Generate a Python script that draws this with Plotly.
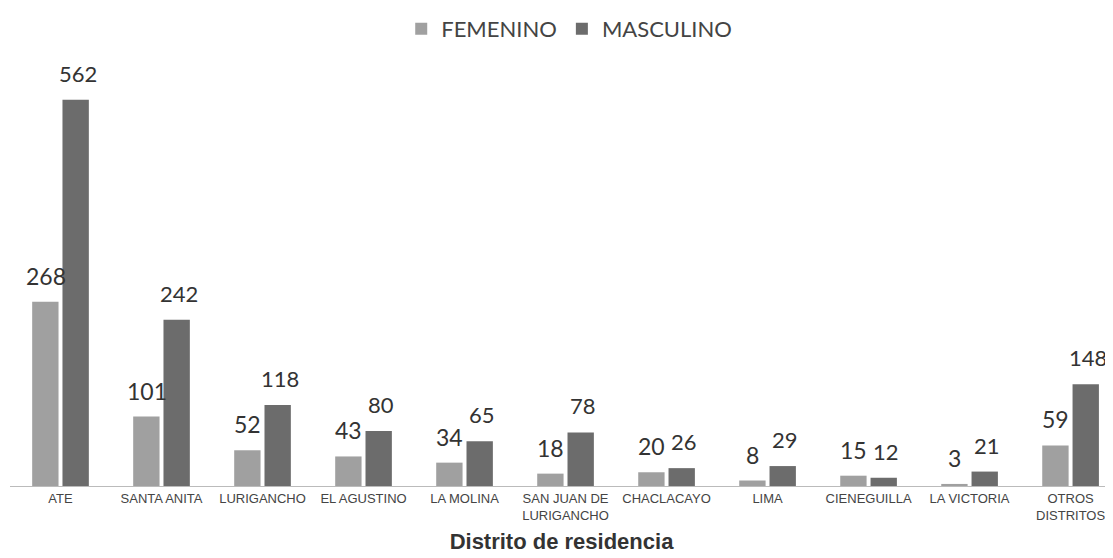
import plotly.graph_objects as go

categorias = ["ATE", "SANTA ANITA", "LURIGANCHO", "EL AGUSTINO", "LA MOLINA",
              "SAN JUAN DE<br>LURIGANCHO", "CHACLACAYO", "LIMA", "CIENEGUILLA",
              "LA VICTORIA", "OTROS<br>DISTRITOS"]
femenino = [268, 101, 52, 43, 34, 18, 20, 8, 15, 3, 59]
masculino = [562, 242, 118, 80, 65, 78, 26, 29, 12, 21, 148]

x_idx = list(range(len(categorias)))
col_f = "#a0a0a0"
col_m = "#6c6c6c"

fig = go.Figure()
fig.add_trace(go.Bar(name="FEMENINO", x=x_idx, y=femenino, marker_color=col_f,
                     marker_line_width=0))
fig.add_trace(go.Bar(name="MASCULINO", x=x_idx, y=masculino, marker_color=col_m,
                     marker_line_width=0))

off = 0.165
for i, v in enumerate(femenino):
    fig.add_annotation(x=i - off, y=v, text=str(v), showarrow=False, yanchor="bottom",
                       yshift=10, xshift=2, font=dict(family="Lato", size=23, color="#333333"))
for i, v in enumerate(masculino):
    fig.add_annotation(x=i + off, y=v, text=str(v), showarrow=False, yanchor="bottom",
                       yshift=11, xshift=1, font=dict(family="Lato", size=22, color="#333333"))

fig.update_layout(
    width=1105, height=550,
    margin=dict(l=2, r=0, t=52, b=72),
    paper_bgcolor="white", plot_bgcolor="white",
    barmode="group", bargap=0.4, bargroupgap=0.13,
    showlegend=True,
    legend=dict(orientation="h", x=0.507, xanchor="center", y=1.0, yref="container",
                yanchor="top", font=dict(family="Lato", size=22, color="#444444"),
                itemwidth=30, traceorder="normal", bgcolor="rgba(0,0,0,0)"),
    xaxis=dict(tickmode="array", tickvals=x_idx, ticktext=categorias,
               range=[-0.5, 10.42], showgrid=False, showline=True,
               linecolor="#bbbbbb", linewidth=1, ticks="",
               tickfont=dict(family="Liberation Sans", size=13, color="#444444"),
               title=dict(text="<b>Distrito de residencia</b>",
                          font=dict(family="Liberation Sans", size=22, color="#333333"),
                          standoff=12)),
    yaxis=dict(range=[0, 620], visible=False, showgrid=False),
)

fig.write_html("out.html")
